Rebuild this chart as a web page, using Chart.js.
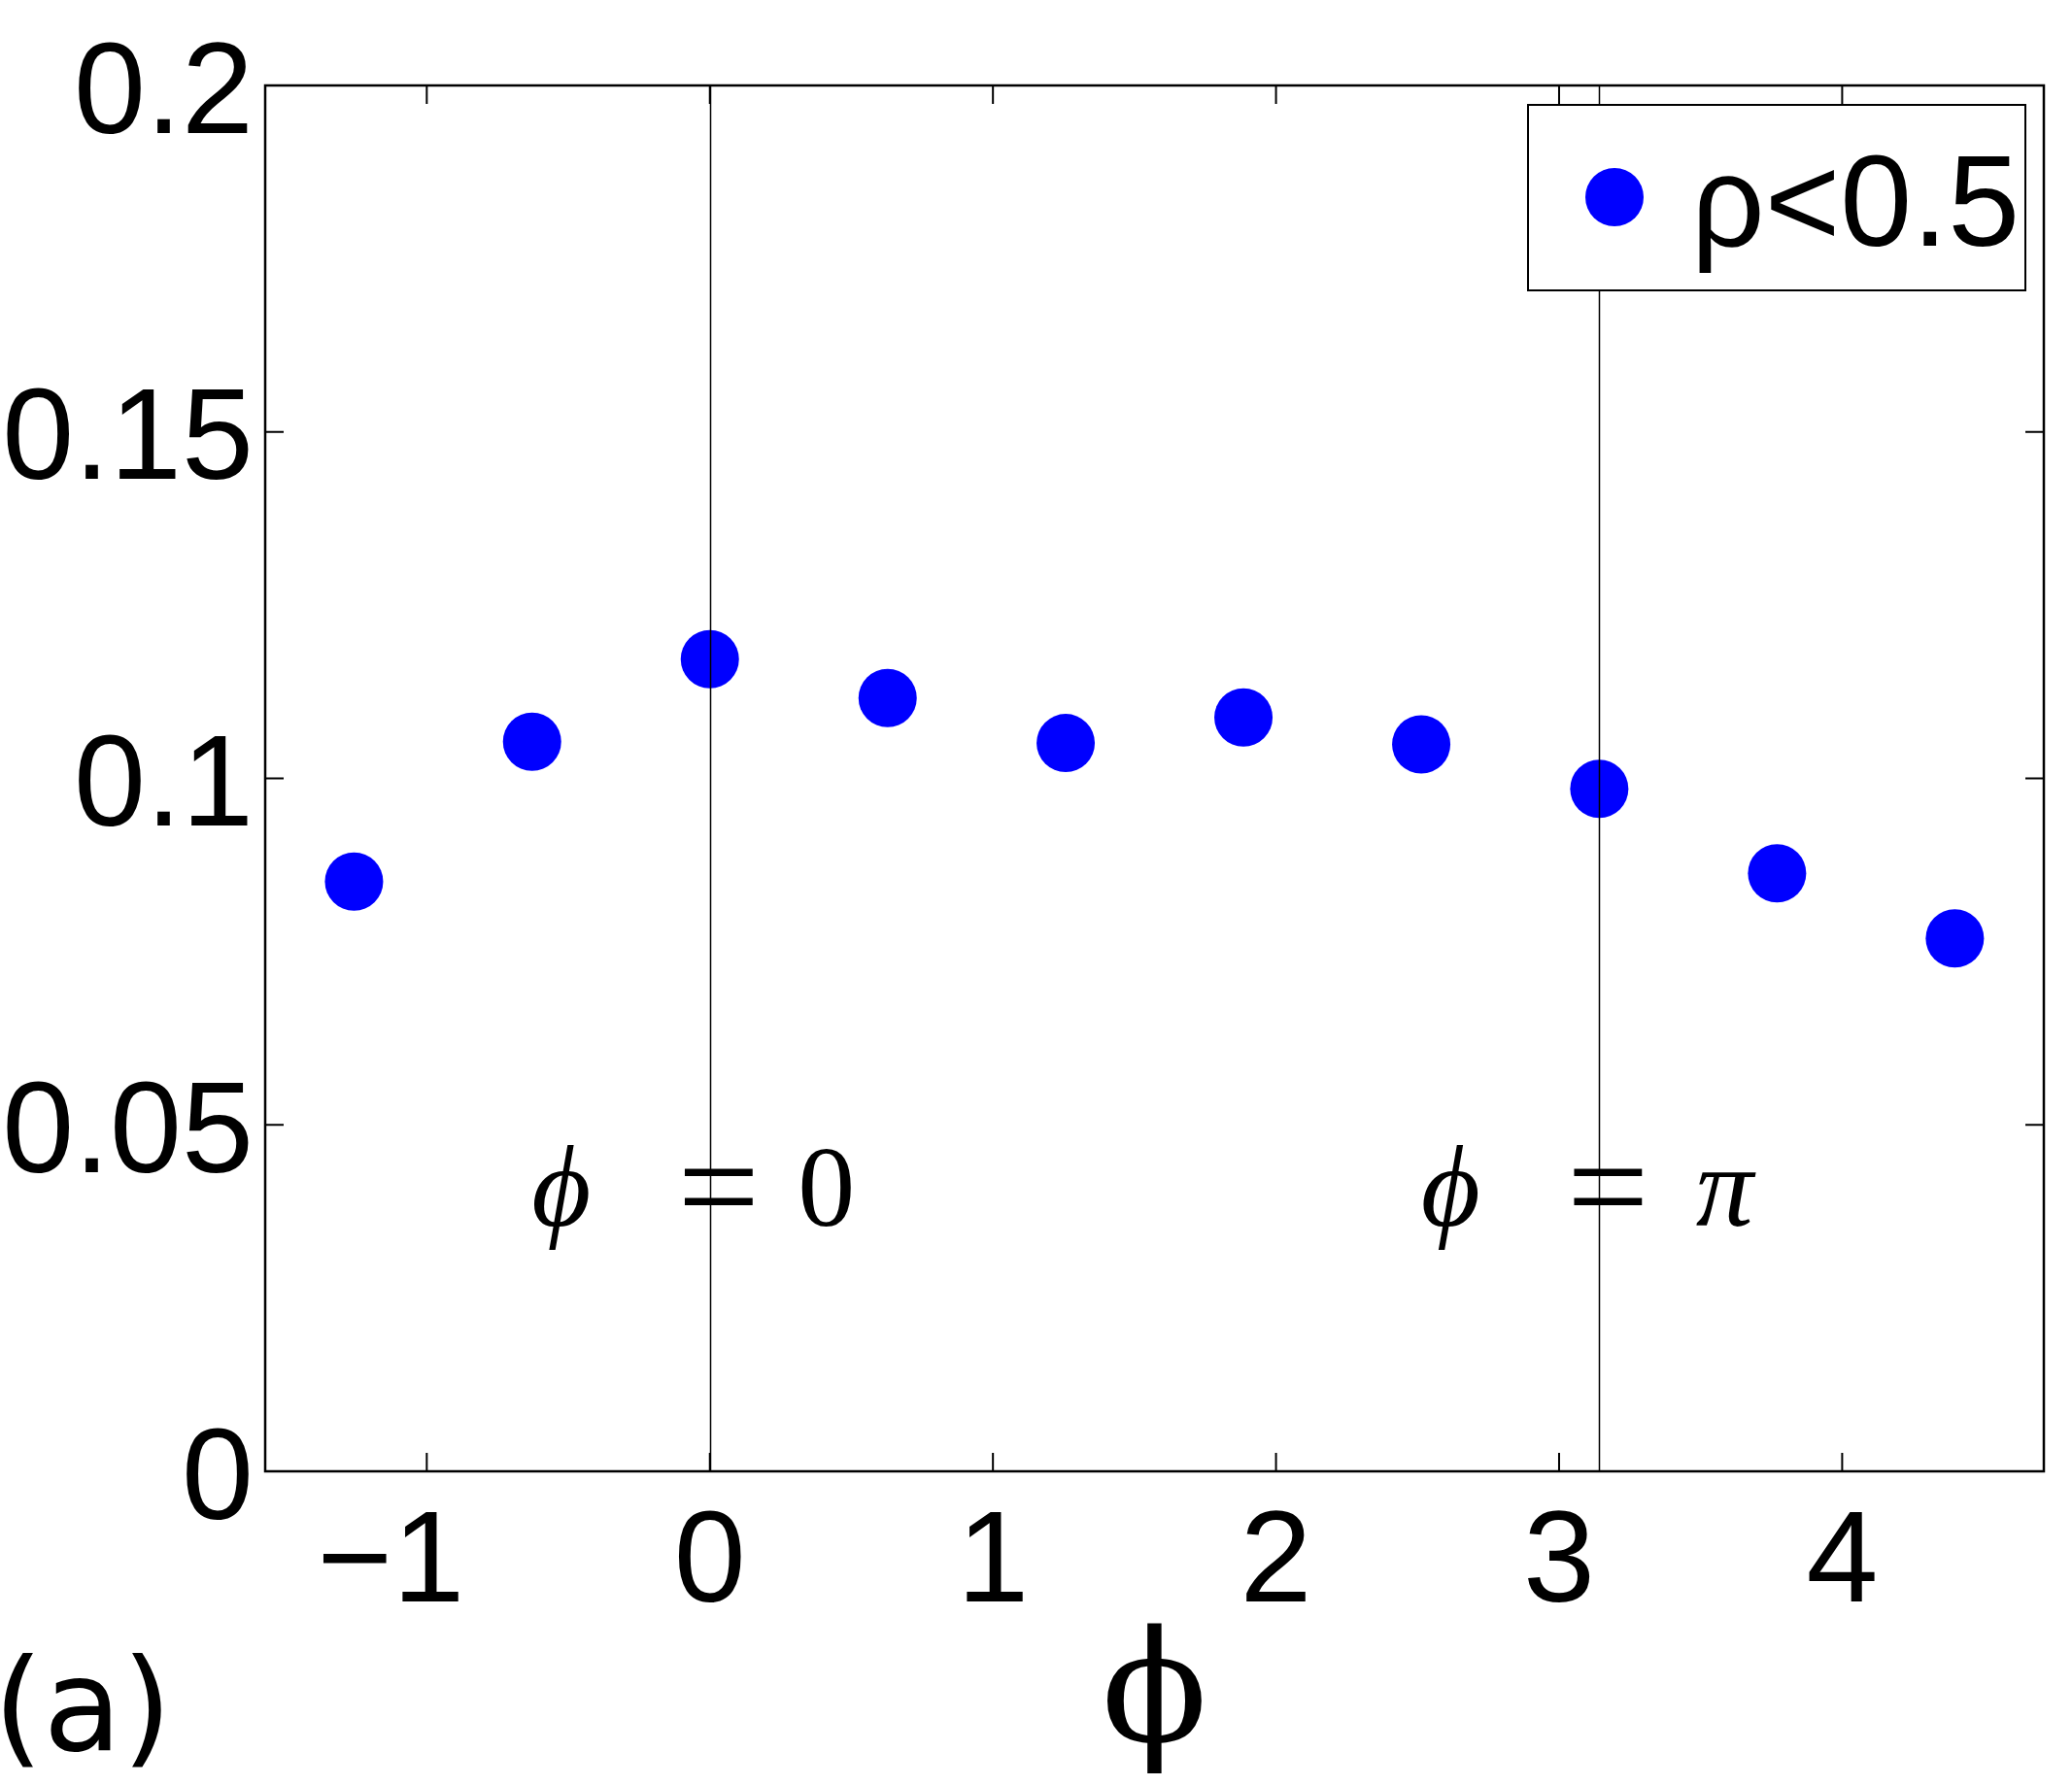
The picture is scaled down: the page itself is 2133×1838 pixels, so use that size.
<!DOCTYPE html>
<html>
<head>
<meta charset="utf-8">
<title>phi scatter</title>
<script src="https://cdn.jsdelivr.net/npm/chart.js@4.4.0/dist/chart.umd.min.js"></script>
<style>
  html, body { margin: 0; padding: 0; background: #fff; }
  #wrap { width: 2133px; height: 1838px; }
</style>
</head>
<body>
<div id="wrap"><canvas id="phiChart" width="2133" height="1838"></canvas></div>
<script>
// values
const phiValues = [-1.257, -0.628, 0, 0.628, 1.257, 1.885, 2.513, 3.142, 3.770, 4.398];
const fractionValues = [0.0851, 0.1053, 0.1172, 0.1116, 0.1051, 0.1088, 0.1049, 0.0985, 0.0863, 0.0769];
const xTicks = [-1, 0, 1, 2, 3, 4];
const xTickLabels = ['\u22121', '0', '1', '2', '3', '4'];
const yTicks = [0, 0.05, 0.1, 0.15, 0.2];
const yTickLabels = ['0', '0.05', '0.1', '0.15', '0.2'];
const xRange = [-1.5708, 4.7124];
const yRange = [0, 0.2];
const markerLines = [0, 3.1416];
const markerTexts = [['ϕ', '=', '0'], ['ϕ', '=', 'π']];
const seriesLabel = 'ρ<0.5';
const axisTitle = '\u03D5';
const panelLabel = '(a)';

const sans = "'Liberation Sans', Arial, sans-serif";
const serif = "'Liberation Serif', 'DejaVu Serif', serif";
const blue = '#0000FF';

// Frame, inward ticks on all four sides, vertical reference lines and their labels
const framePlugin = {
    id: 'frame',
    afterDatasetsDraw(chart) {
        const ctx = chart.ctx;
        const area = chart.chartArea;
        const xs = chart.scales.x;
        const ys = chart.scales.y;
        ctx.save();

        // reference lines (drawn over the markers, as in the figure)
        ctx.strokeStyle = '#000';
        ctx.lineWidth = 1.5;
        markerLines.forEach(v => {
            const px = Math.round(xs.getPixelForValue(v)) + 0.5;
            ctx.beginPath();
            ctx.moveTo(px, area.top);
            ctx.lineTo(px, area.bottom);
            ctx.stroke();
        });

        // ticks
        const tickLen = 19;
        ctx.lineWidth = 2;
        xTicks.forEach(v => {
            const px = xs.getPixelForValue(v);
            ctx.beginPath();
            ctx.moveTo(px, area.bottom);
            ctx.lineTo(px, area.bottom - tickLen);
            ctx.moveTo(px, area.top);
            ctx.lineTo(px, area.top + tickLen);
            ctx.stroke();
        });
        yTicks.forEach(v => {
            const py = ys.getPixelForValue(v);
            ctx.beginPath();
            ctx.moveTo(area.left, py);
            ctx.lineTo(area.left + tickLen, py);
            ctx.moveTo(area.right, py);
            ctx.lineTo(area.right - tickLen, py);
            ctx.stroke();
        });

        // box
        ctx.lineWidth = 2.5;
        ctx.strokeRect(area.left, area.top, area.right - area.left, area.bottom - area.top);

        // labels next to the reference lines
        ctx.fillStyle = '#000';
        ctx.textAlign = 'center';
        ctx.textBaseline = 'alphabetic';
        const baseY = ys.getPixelForValue(0.0355);
        markerLines.forEach((v, i) => {
            const px = xs.getPixelForValue(v);
            const parts = markerTexts[i];
            ctx.font = 'italic 118px ' + serif;
            ctx.fillText(parts[0], px - 153, baseY);
            ctx.font = '150px ' + serif;
            ctx.fillText(parts[1], px + 9, baseY + 10);
            ctx.font = (i === 0 ? '' : 'italic ') + '118px ' + serif;
            ctx.fillText(parts[2], px + (i === 0 ? 120 : 129), baseY);
        });
        ctx.restore();
    },
    afterDraw(chart) {
        const ctx = chart.ctx;
        const area = chart.chartArea;
        ctx.save();

        // legend box in the upper right corner
        const right = area.right - 19;
        const left = right - 512;
        const top = area.top + 20;
        const bottom = top + 191;
        ctx.fillStyle = '#fff';
        ctx.fillRect(left, top, right - left, bottom - top);
        ctx.strokeStyle = '#000';
        ctx.lineWidth = 2;
        ctx.strokeRect(left, top, right - left, bottom - top);
        ctx.fillStyle = blue;
        ctx.beginPath();
        ctx.arc(left + 89, top + 95, 30, 0, Math.PI * 2);
        ctx.fill();
        ctx.fillStyle = '#000';
        ctx.font = '133px ' + sans;
        ctx.textAlign = 'left';
        ctx.textBaseline = 'alphabetic';
        ctx.fillText(seriesLabel, left + 168, top + 145);

        // panel tag
        ctx.font = "132px 'DejaVu Sans', sans-serif";
        ctx.fillText(panelLabel, -7, 1802);
        ctx.restore();
    }
};

const ctx = document.getElementById('phiChart').getContext('2d');
const chart = new Chart(ctx, {
    type: 'scatter',
    data: {
        datasets: [{
            label: seriesLabel,
            data: phiValues.map((x, i) => ({ x: x, y: fractionValues[i] })),
            backgroundColor: blue,
            borderWidth: 0,
            pointRadius: 30,
            pointHoverRadius: 30
        }]
    },
    options: {
        responsive: false,
        devicePixelRatio: 1,
        animation: false,
        events: [],
        layout: { autoPadding: false, padding: { top: 88, right: 29, left: 0, bottom: 0 } },
        plugins: {
            legend: { display: false },
            tooltip: { enabled: false }
        },
        scales: {
            x: {
                type: 'linear',
                min: xRange[0],
                max: xRange[1],
                afterBuildTicks: scale => { scale.ticks = xTicks.map(v => ({ value: v })); },
                afterFit: scale => {
                    scale.height = 323;
                    scale.paddingLeft = 0;
                    scale.paddingRight = 0;
                },
                grid: { display: false, drawTicks: false },
                border: { display: false },
                ticks: {
                    color: '#000',
                    font: { family: sans, size: 133 },
                    padding: 18,
                    maxRotation: 0,
                    autoSkip: false,
                    // the minus hangs left of the tick in the original, so pad the right side
                    callback: (v, i) => v < 0 ? xTickLabels[i] + '  ' : xTickLabels[i]
                },
                title: {
                    display: true,
                    text: axisTitle,
                    color: '#000',
                    font: { family: "'DejaVu Serif', serif", size: 160, lineHeight: 1 },
                    padding: { top: 0, bottom: 7 }
                }
            },
            y: {
                type: 'linear',
                min: yRange[0],
                max: yRange[1],
                afterBuildTicks: scale => { scale.ticks = yTicks.map(v => ({ value: v })); },
                afterFit: scale => {
                    scale.width = 273;
                    scale.paddingTop = 0;
                    scale.paddingBottom = 0;
                },
                grid: { display: false, drawTicks: false },
                border: { display: false },
                ticks: {
                    color: '#000',
                    font: { family: sans, size: 133 },
                    padding: 12,
                    labelOffset: 12,
                    autoSkip: false,
                    callback: (v, i) => yTickLabels[i]
                }
            }
        }
    },
    plugins: [framePlugin]
});
</script>
</body>
</html>
